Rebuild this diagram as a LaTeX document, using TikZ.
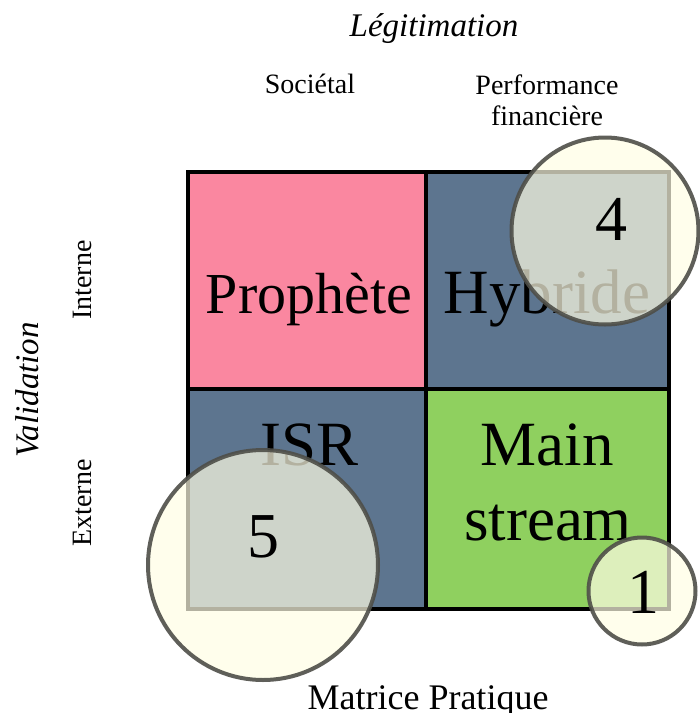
\documentclass[tikz,border=0pt]{standalone}
\usepackage{fontspec}
\setmainfont{Liberation Serif}
\definecolor{pinkc}{RGB}{250,135,160}
\definecolor{slatec}{RGB}{93,117,143}
\definecolor{greenc}{RGB}{143,208,95}
\definecolor{circfill}{RGB}{255,253,228}
\definecolor{circdraw}{RGB}{78,78,72}
\begin{document}
\begin{tikzpicture}[x=1pt,y=-1pt,
  cell/.style={draw=black, line width=4.5pt, inner sep=0pt, rectangle},
  celltext/.style={font=\fontsize{63}{76}\selectfont, anchor=base, inner sep=0pt},
  numtext/.style={font=\fontsize{64}{70}\selectfont, anchor=base, inner sep=0pt},
  axislabel/.style={font=\fontsize{28}{31}\selectfont, inner sep=0pt},
  axistitle/.style={font=\fontsize{33}{36}\selectfont\itshape, inner sep=0pt},
  bubble/.style={circle, draw=circdraw, line width=4pt, fill=circfill, fill opacity=0.7, draw opacity=0.9, inner sep=0pt}]
\useasboundingbox (0,0) rectangle (700,713);
% cells
\node[cell, fill=pinkc, minimum width=238pt, minimum height=217pt] (tl) at (307,280.5) {};
\node[cell, fill=slatec, minimum width=243pt, minimum height=217pt] (tr) at (547.5,280.5) {};
\node[cell, fill=slatec, minimum width=238pt, minimum height=220pt] (bl) at (307,499) {};
\node[cell, fill=greenc, minimum width=243pt, minimum height=220pt] (br) at (547.5,499) {};
% cell texts
\node[celltext, font=\fontsize{58}{76}\selectfont] (prophete) at (309,313) {Prophète};
\node[celltext] (hybride) at (547,313) {Hybride};
\node[celltext] (isr) at (310,465) {ISR};
\node[celltext] (main) at (547,465) {Main};
\node[celltext] (stream) at (548,540) {stream};
% bubbles
\node[bubble, minimum size=187pt] (c4) at (605,231) {};
\node[bubble, minimum size=230pt] (c5) at (263,565) {};
\node[bubble, minimum size=107pt] (c1) at (642,591) {};
\node[numtext] (n4) at (611,240) {4};
\node[numtext] (n5) at (263,557) {5};
\node[numtext] (n1) at (643,613) {1};
% axis labels
\node[axistitle, anchor=base] (legit) at (434,36) {Légitimation};
\node[axislabel, anchor=base] (societal) at (310,93) {Sociétal};
\node[axislabel, anchor=base, align=center] (perf) at (547,125) {Performance\\financière};
\node[axistitle, rotate=90] (valid) at (27,390) {Validation};
\node[axislabel, rotate=90] (interne) at (82,280) {Interne};
\node[axislabel, rotate=90] (externe) at (82,503) {Externe};
\node[font=\fontsize{36}{40}\selectfont, anchor=base, inner sep=0pt] (matrice) at (428,709) {Matrice Pratique};
\end{tikzpicture}
\end{document}
